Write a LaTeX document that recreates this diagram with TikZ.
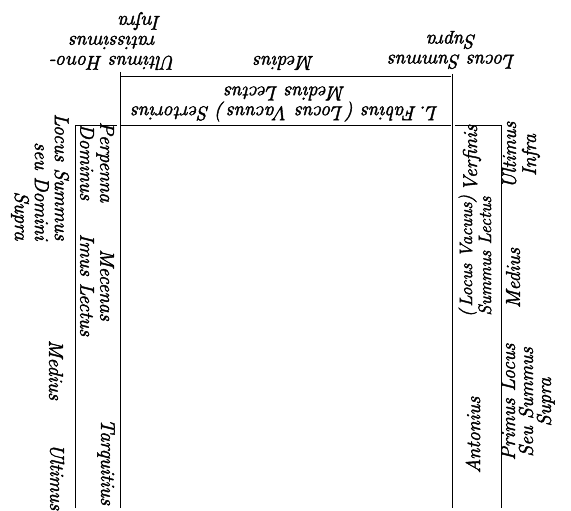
\documentclass[tikz,border=0pt]{standalone}
\usepackage{fontspec}
\setmainfont{Latin Modern Roman}[ItalicFeatures={FakeBold=2}]
\begin{document}
\begin{tikzpicture}[x=1pt,y=-1pt,line width=0.9pt,
  lbl/.style={font=\fontsize{20}{20}\selectfont\itshape,align=center,inner sep=0pt},
  uptext/.style={lbl,rotate=180},
  downtext/.style={lbl,rotate=-90},
  risetext/.style={lbl,rotate=90}]
\useasboundingbox (0,0) rectangle (571,511);

% corner points of the couches
\coordinate (mlTL) at (120,72);
\coordinate (mlBL) at (120,508);
\coordinate (mlTR) at (452,74);
\coordinate (mlBR) at (452,508);
\coordinate (mlTopA) at (121,76);
\coordinate (mlTopB) at (451,76);
\coordinate (mlBotA) at (121,125);
\coordinate (mlBotB) at (451,125);
\coordinate (imA) at (75,508);
\coordinate (imB) at (75,125);
\coordinate (imC) at (117,125);
\coordinate (smA) at (455,125);
\coordinate (smB) at (501,125);
\coordinate (smC) at (501,508);

% medius lectus and the sides of the table
\draw (mlTL) -- (mlBL);
\draw (mlTR) -- (mlBR);
\draw (mlTopA) -- (mlTopB);
\draw (mlBotA) -- (mlBotB);
% imus lectus
\draw (imA) -- (imB) -- (imC);
% summus lectus
\draw (smA) -- (smB) -- (smC);

% places above the medius lectus
\node[uptext] (tUlt) at (113,41) {Ultimus Hono-\\ratissimus\\Infra\hspace*{54pt}};
\node[uptext] (tMed) at (284,63) {Medius};
\node[uptext] (tSum) at (452,50) {Locus Summus\\Supra};
% medius lectus
\node[uptext,font=\fontsize{20}{18}\selectfont\itshape] (mlText) at (285,104) {L.\,Fabius (\,Locus Vacuus\,) Sertorius\\Medius Lectus};

% imus lectus
\node[downtext] (im1) at (97,162) {Perpenna\\Dominus};
\node[downtext] (im2) at (97,285) {Mecenas\\Imus Lectus};
\node[downtext] (im3) at (106,462) {Tarquitius};
% places beside the imus lectus
\node[downtext,align=right] (lSum) at (40,177) {Locus Summus\\seu Domini\\Supra};
\node[downtext] (lMed) at (56,370) {Medius};
\node[downtext] (lUlt) at (57,477) {Ultimus};

% summus lectus
\node[risetext] (sm1) at (472,158) {Verfinis};
\node[risetext,font=\fontsize{18}{19}\selectfont\itshape] (sm2) at (475,256) {(\,Locus Vacuus)\\Summus Lectus};
\node[risetext] (sm3) at (473,435) {Antonius};
% places beside the summus lectus
\node[risetext] (rUlt) at (521,155) {Ultimus\\Infra};
\node[risetext] (rMed) at (513,278) {Medius};
\node[risetext,font=\fontsize{20}{18}\selectfont\itshape] (rPri) at (528,402) {Primus Locus\\Seu Summus\\Supra};
\end{tikzpicture}
\end{document}
